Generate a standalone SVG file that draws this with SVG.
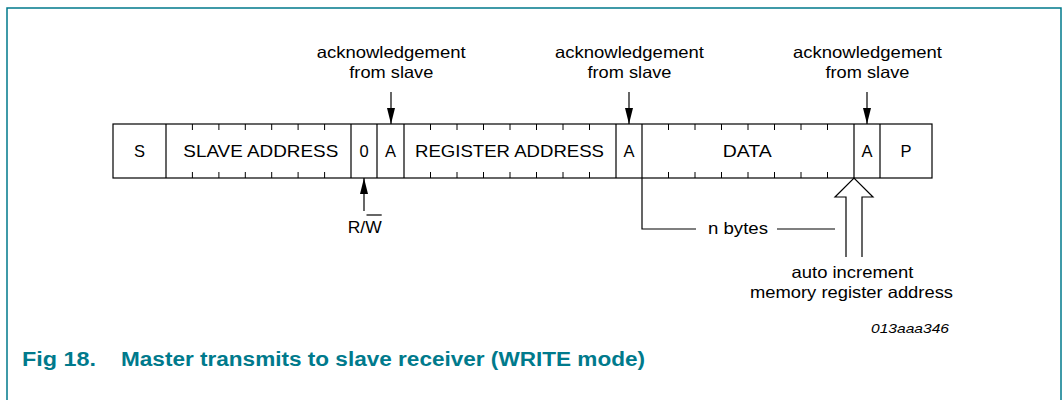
<svg xmlns="http://www.w3.org/2000/svg" width="1063" height="400" viewBox="0 0 1063 400">
<style>
text{font-family:"Liberation Sans",Arial,sans-serif;fill:#000}
.t{font-size:16.5px}
.c{text-anchor:middle}
.ln{stroke:#000;stroke-width:1.2;fill:none}
.tk{stroke:#000;stroke-width:1}
.cap{font-size:20px;font-weight:bold;fill:#007a8c}
</style>
<defs>
<marker id="ah" viewBox="0 0 16 8" refX="16" refY="4" markerWidth="16" markerHeight="8" markerUnits="userSpaceOnUse" orient="auto">
<path d="M0,0 L16,4 L0,8 Z" fill="#000"/>
</marker>
</defs>
<rect width="1063" height="400" fill="#fff"/>
<path d="M7,400 V8 H1061 V400" fill="none" stroke="#007a8c" stroke-width="1.5"/>

<g id="frame-row">
<rect x="113" y="124" width="819" height="54" class="ln"/>
<path class="ln" d="M166,124V178 M351,124V178 M377,124V178 M404,124V178 M616,124V178 M642,124V178 M854,124V178 M880,124V178"/>
<path class="tk" d="M192.4,124v6M218.9,124v6M245.3,124v6M271.7,124v6M298.1,124v6M324.6,124v6
M192.4,178v-6M218.9,178v-6M245.3,178v-6M271.7,178v-6M298.1,178v-6M324.6,178v-6
M430.5,124v6M457,124v6M483.5,124v6M510,124v6M536.5,124v6M563,124v6M589.5,124v6
M430.5,178v-6M457,178v-6M483.5,178v-6M510,178v-6M536.5,178v-6M563,178v-6M589.5,178v-6
M668.5,124v6M695,124v6M721.5,124v6M748,124v6M774.5,124v6M801,124v6M827.5,124v6
M668.5,178v-6M695,178v-6M721.5,178v-6M748,178v-6M774.5,178v-6M801,178v-6M827.5,178v-6"/>
</g>
<g id="field-s"><text class="t c" x="139.5" y="157">S</text></g>
<g id="field-slave-address"><text class="t c" x="260.8" y="157" textLength="155" lengthAdjust="spacingAndGlyphs">SLAVE ADDRESS</text></g>
<g id="field-rw"><text class="t c" x="364" y="157">0</text></g>
<g id="field-a1"><text class="t c" x="390.5" y="157">A</text></g>
<g id="field-register-address"><text class="t c" x="509.5" y="157" textLength="189" lengthAdjust="spacingAndGlyphs">REGISTER ADDRESS</text></g>
<g id="field-a2"><text class="t c" x="629" y="157">A</text></g>
<g id="field-data"><text class="t c" x="747.2" y="157" textLength="49" lengthAdjust="spacingAndGlyphs">DATA</text></g>
<g id="field-a3"><text class="t c" x="867" y="157">A</text></g>
<g id="field-p"><text class="t c" x="906" y="157">P</text></g>

<g id="label-ack1"><text class="t c" x="391.2" y="58" textLength="149" lengthAdjust="spacingAndGlyphs">acknowledgement</text><text class="t c" x="391.3" y="78" textLength="84" lengthAdjust="spacingAndGlyphs">from slave</text></g>
<g id="label-ack2"><text class="t c" x="629.5" y="58" textLength="149" lengthAdjust="spacingAndGlyphs">acknowledgement</text><text class="t c" x="629.5" y="78" textLength="84" lengthAdjust="spacingAndGlyphs">from slave</text></g>
<g id="label-ack3"><text class="t c" x="867.5" y="58" textLength="149" lengthAdjust="spacingAndGlyphs">acknowledgement</text><text class="t c" x="867.5" y="78" textLength="84" lengthAdjust="spacingAndGlyphs">from slave</text></g>
<g id="label-rw"><text class="t c" x="364.7" y="233" textLength="34" lengthAdjust="spacingAndGlyphs">R/W</text><path d="M366.5,215H381.7" stroke="#000" stroke-width="1.2"/></g>
<g id="label-nbytes"><text class="t c" x="738" y="234" textLength="60" lengthAdjust="spacingAndGlyphs">n bytes</text></g>
<g id="label-auto"><text class="t c" x="852.5" y="278" textLength="122" lengthAdjust="spacingAndGlyphs">auto increment</text><text class="t c" x="851.5" y="298" textLength="203" lengthAdjust="spacingAndGlyphs">memory register address</text></g>
<g id="label-code"><text x="871" y="333" font-size="13.5" font-style="italic" textLength="78" lengthAdjust="spacingAndGlyphs">013aaa346</text></g>
<g id="caption"><text class="cap" x="22" y="366" textLength="74" lengthAdjust="spacingAndGlyphs">Fig 18.</text><text class="cap" x="121" y="366" textLength="524" lengthAdjust="spacingAndGlyphs">Master transmits to slave receiver (WRITE mode)</text></g>

<g id="connectors">
<path class="ln" d="M391,92V124" marker-end="url(#ah)"/>
<path class="ln" d="M629,92V124" marker-end="url(#ah)"/>
<path class="ln" d="M867,92V124" marker-end="url(#ah)"/>
<path class="ln" d="M364,211V178" marker-end="url(#ah)"/>
<path class="ln" d="M642,178V229H696 M777,229H835"/>
<path class="ln" d="M846,257V197H835L854,178L873,197H862V257"/>
</g>
</svg>
